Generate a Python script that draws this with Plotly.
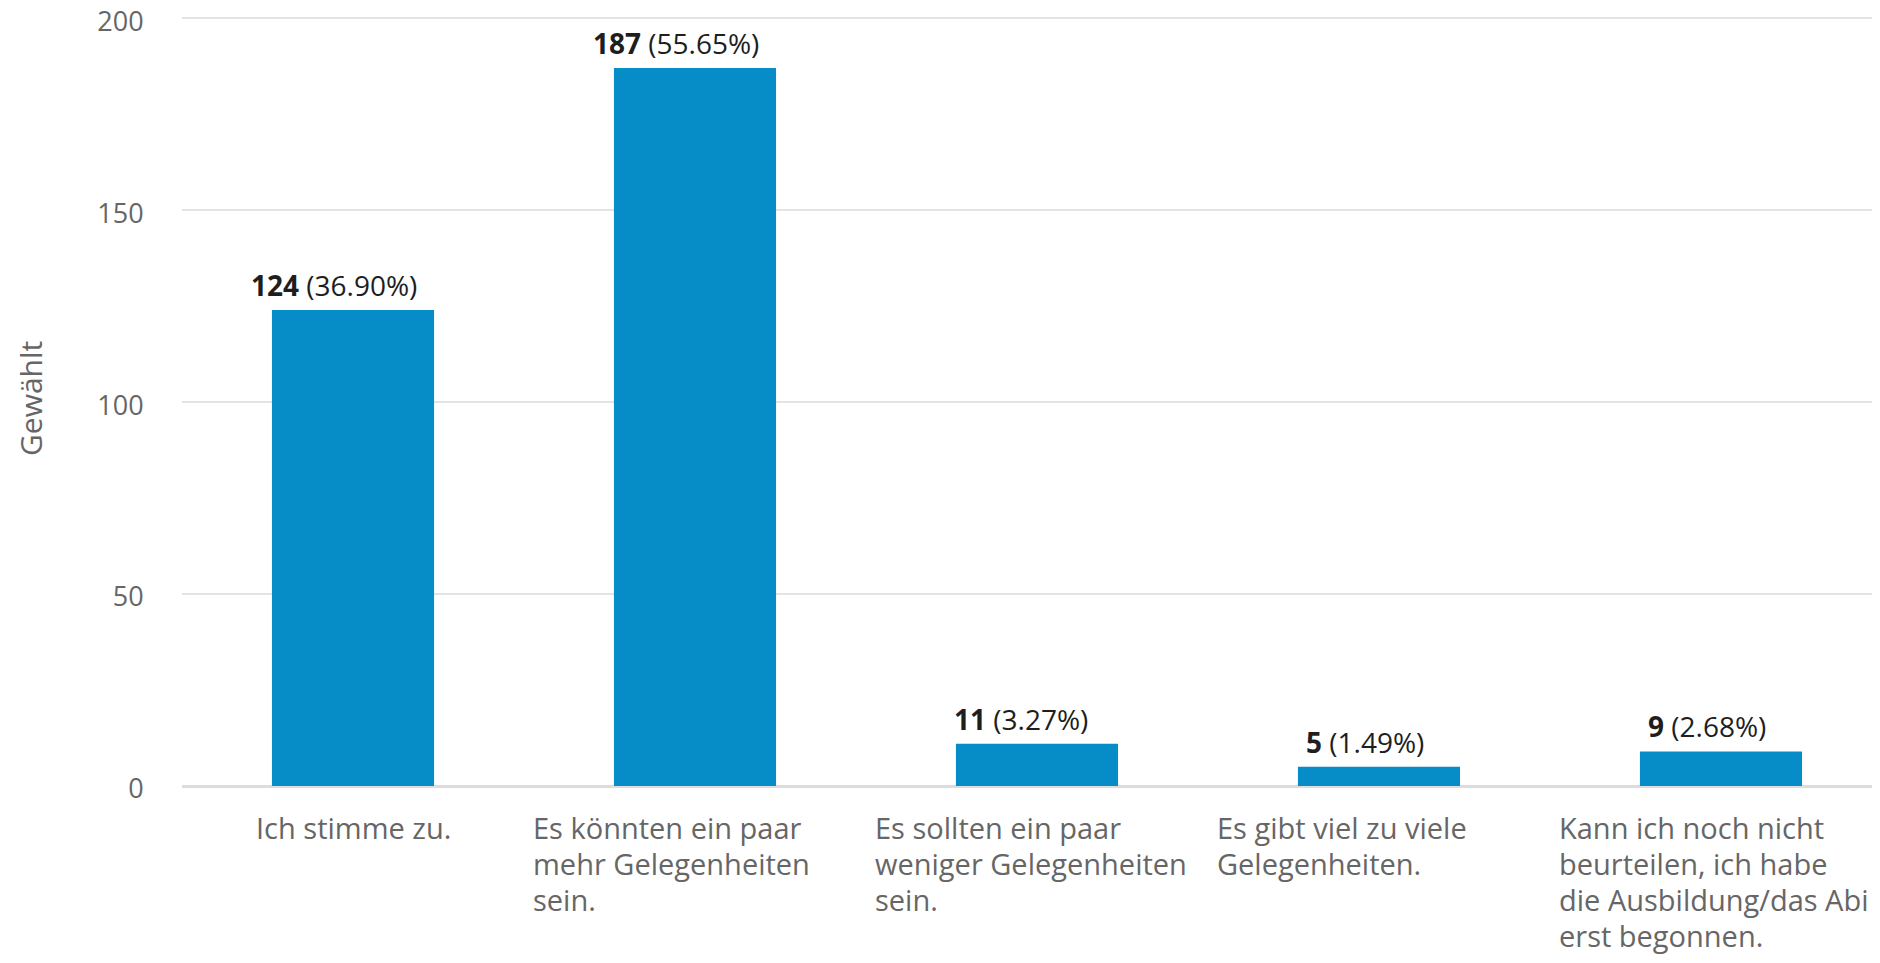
import plotly.graph_objects as go

categories = [
    "Ich stimme zu.",
    "Es könnten ein paar<br>mehr Gelegenheiten<br>sein.",
    "Es sollten ein paar<br>weniger Gelegenheiten<br>sein.",
    "Es gibt viel zu viele<br>Gelegenheiten.",
    "Kann ich noch nicht<br>beurteilen, ich habe<br>die Ausbildung/das Abi<br>erst begonnen.",
]
counts = [124, 187, 11, 5, 9]
percents = ["36.90", "55.65", "3.27", "1.49", "2.68"]
y_ticks = [0, 50, 100, 150, 200]
y_title = "Gewählt"

FONT = "Open Sans"
BAR = "#068dc8"
GRAY = "#666666"
LINE_H = 36

idx = list(range(len(categories)))

fig = go.Figure()
fig.add_trace(go.Bar(
    x=idx, y=counts, marker=dict(color=BAR, line=dict(width=0)),
    hoverinfo="skip",
))

annotations = []
for i, (c, p) in enumerate(zip(counts, percents)):
    plain = f"{c} ({p}%)"
    annotations.append(dict(
        x=i, xref="x", y=c, yref="y", xanchor="center", yanchor="bottom",
        xshift=-1.55 * len(plain), yshift=4,
        text=f"<b>{c}</b> ({p}%)", showarrow=False,
        font=dict(family=FONT, size=28, color="#1e1e1e"),
    ))
for i, cat in enumerate(categories):
    lines = cat.split("<br>")
    multi = len(lines) > 1
    for k, line in enumerate(lines):
        annotations.append(dict(
            x=i, xref="x", y=0, yref="paper", yanchor="top",
            xanchor="left" if multi else "center",
            xshift=-164 if multi else 0, yshift=-20 - LINE_H * k,
            text=line, showarrow=False,
            font=dict(family=FONT, size=29, color=GRAY),
        ))
annotations.append(dict(
    x=0, xref="paper", y=0.5, yref="paper", xanchor="center", yanchor="middle",
    xshift=-152, textangle=-90, text=y_title, showarrow=False,
    font=dict(family=FONT, size=30, color=GRAY),
))

fig.update_layout(
    width=1872, height=955,
    margin=dict(l=174, r=0, t=4, b=177, autoexpand=False),
    paper_bgcolor="white", plot_bgcolor="white",
    bargap=0.526, showlegend=False,
    font=dict(family=FONT, size=27, color=GRAY),
    annotations=annotations,
    xaxis=dict(range=[-0.5, 4.465], showticklabels=False, showgrid=False,
               zeroline=False, showline=False, ticks="", automargin=False),
    yaxis=dict(range=[0, 201.6], tickvals=y_ticks, showgrid=True,
               gridcolor="#e4e4e4", gridwidth=2, zeroline=True,
               zerolinecolor="#dcdcdc", zerolinewidth=3, showline=False,
               ticks="outside", ticklen=32, tickcolor="rgba(0,0,0,0)",
               ticklabeloverflow="allow", automargin=False,
               ticklabelshift=3,
               tickfont=dict(family=FONT, size=27, color=GRAY)),
)

fig.write_html("out.html")
